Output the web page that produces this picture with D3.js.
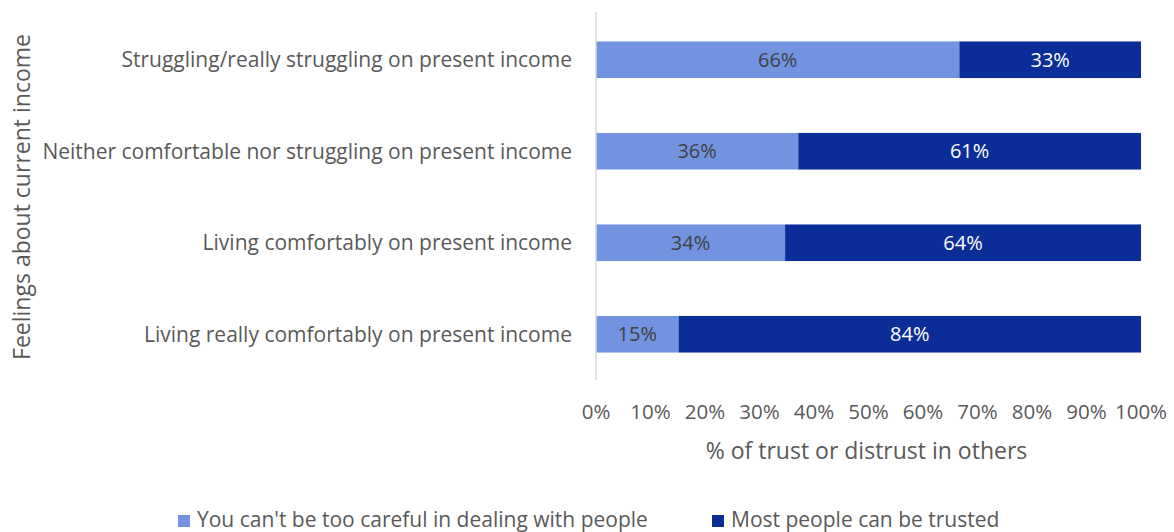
<!DOCTYPE html>
<html>
<head>
<meta charset="utf-8">
<script src="https://cdn.jsdelivr.net/npm/d3@7"></script>
<style>
  html, body { margin: 0; padding: 0; background: #fff; }
  svg { display: block; font-family: "Open Sans", "Noto Sans", sans-serif; }
</style>
</head>
<body>
<svg id="chart" width="1174" height="532"></svg>
<script>
// Income groups, top to bottom
const categories = [
  "Struggling/really struggling on present income",
  "Neither comfortable nor struggling on present income",
  "Living comfortably on present income",
  "Living really comfortably on present income"
];
// Share of respondents per answer (%)
const carefulValues = [66, 36, 34, 15];
const trustedValues = [33, 61, 64, 84];
const seriesNames = [
  "You can't be too careful in dealing with people",
  "Most people can be trusted"
];
const tickLabels = [0, 10, 20, 30, 40, 50, 60, 70, 80, 90, 100];

const colors = ["#7293E0", "#0B2D98"];
const labelColors = ["#404040", "#ffffff"];

const svg = d3.select("#chart");
const plotLeft = 596, plotRight = 1141, plotTop = 14, plotBottom = 380;

const x = d3.scaleLinear().domain([0, 1]).range([plotLeft, plotRight]);
const y = d3.scaleBand().domain(categories).range([plotTop, plotBottom]).paddingInner(0.6).paddingOuter(0.3);

// 100% stacked: each row is normalised by its own total
const rows = categories.map((c, i) => ({ cat: c, careful: carefulValues[i], trusted: trustedValues[i] }));
const stack = d3.stack().keys(["careful", "trusted"]).offset(d3.stackOffsetExpand);
const layers = stack(rows);

const g = svg.append("g");
layers.forEach((layer, li) => {
  const lg = g.append("g");
  lg.selectAll("rect").data(layer).join("rect")
    .attr("x", d => x(d[0]))
    .attr("y", d => y(d.data.cat))
    .attr("width", d => x(d[1]) - x(d[0]))
    .attr("height", y.bandwidth())
    .attr("fill", colors[li]);
  lg.selectAll("text").data(layer).join("text")
    .attr("x", d => (x(d[0]) + x(d[1])) / 2)
    .attr("y", d => y(d.data.cat) + y.bandwidth() / 2)
    .attr("dy", "0.35em")
    .attr("text-anchor", "middle")
    .attr("font-size", 20)
    .attr("fill", labelColors[li])
    .text(d => d.data[layer.key] + "%");
});

// Vertical category axis line
svg.append("line")
  .attr("x1", plotLeft).attr("x2", plotLeft)
  .attr("y1", plotTop - 2).attr("y2", plotBottom)
  .attr("stroke", "#d9d9d9").attr("stroke-width", 1.5);

// Category labels
svg.append("g").selectAll("text").data(categories).join("text")
  .attr("x", plotLeft - 24)
  .attr("y", d => y(d) + y.bandwidth() / 2)
  .attr("dy", "0.35em")
  .attr("text-anchor", "end")
  .attr("font-size", 21)
  .attr("fill", "#595959")
  .text(d => d);

// Percentage ticks along the bottom
const xt = d3.scaleLinear().domain([0, 100]).range([plotLeft, plotRight]);
svg.append("g").selectAll("text").data(tickLabels).join("text")
  .attr("x", d => xt(d))
  .attr("y", 412)
  .attr("dy", "0.35em")
  .attr("text-anchor", "middle")
  .attr("font-size", 20.5)
  .attr("fill", "#595959")
  .text(d => d + "%");

// Axis titles
svg.append("text")
  .attr("x", (plotLeft + plotRight) / 2 - 2).attr("y", 451)
  .attr("dy", "0.35em")
  .attr("text-anchor", "middle")
  .attr("font-size", 23)
  .attr("fill", "#595959")
  .text("% of trust or distrust in others");

svg.append("text")
  .attr("transform", `translate(22, ${(plotTop + plotBottom) / 2}) rotate(-90)`)
  .attr("dy", "0.35em")
  .attr("text-anchor", "middle")
  .attr("font-size", 23)
  .attr("fill", "#595959")
  .text("Feelings about current income");

// Legend
const legendX = [178, 712];
const legend = svg.append("g");
seriesNames.forEach((name, i) => {
  legend.append("rect")
    .attr("x", legendX[i]).attr("y", 515)
    .attr("width", 12).attr("height", 12)
    .attr("fill", colors[i]);
  legend.append("text")
    .attr("x", legendX[i] + 19).attr("y", 520)
    .attr("dy", "0.35em")
    .attr("font-size", 21)
    .attr("fill", "#595959")
    .text(name);
});
</script>
</body>
</html>
